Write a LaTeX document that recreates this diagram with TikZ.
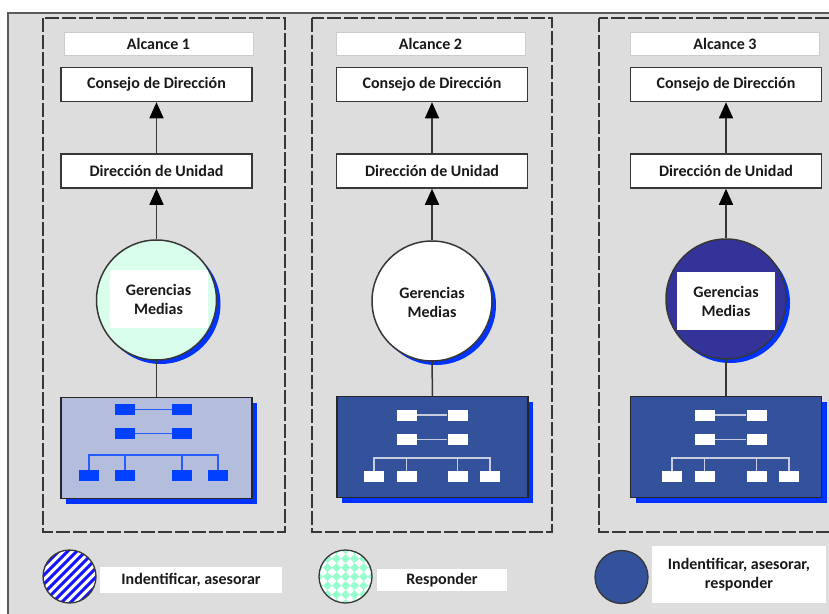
\documentclass[tikz,border=0pt]{standalone}
\usepackage{fontspec}
\setmainfont{Carlito}
\usetikzlibrary{arrows.meta,shadows}

\definecolor{bggray}{RGB}{221,221,221}
\definecolor{framegray}{RGB}{90,90,90}
\definecolor{dashgray}{RGB}{55,55,55}
\definecolor{sblue}{RGB}{0,51,255}
\definecolor{mint}{RGB}{217,253,235}
\definecolor{navy}{RGB}{51,51,153}
\definecolor{orgdark}{RGB}{52,81,155}
\definecolor{orglight}{RGB}{180,190,220}
\definecolor{minib}{RGB}{0,64,255}
\definecolor{stripeb}{RGB}{20,20,255}
\definecolor{diamondc}{RGB}{150,255,205}
\definecolor{txt}{RGB}{25,25,25}
\definecolor{lightline}{RGB}{200,205,225}

\newcommand{\minichart}[8]{%
  \node[mb] (#1t1) at ({#2-#3},#5) {};
  \node[mb] (#1t2) at ({#2+#3},#5) {};
  \node[mb] (#1r1) at ({#2-#3},#6) {};
  \node[mb] (#1r2) at ({#2+#3},#6) {};
  \node[mb] (#1b1) at ({#2-#4},#8) {};
  \node[mb] (#1b2) at ({#2-#3},#8) {};
  \node[mb] (#1b3) at ({#2+#3},#8) {};
  \node[mb] (#1b4) at ({#2+#4},#8) {};
  \coordinate (#1bus) at (#2,#7);
  \draw[ml] (#1t1) -- (#1t2);
  \draw[ml] (#1r1) -- (#1r2);
  \draw[ml] (#1b1.north) -- (#1b1.north |- #1bus) -- (#1b4.north |- #1bus) -- (#1b4.north);
  \draw[ml] (#1b2.north) -- (#1b2.north |- #1bus);
  \draw[ml] (#1b3.north) -- (#1b3.north |- #1bus);
}

\tikzset{
  txtfont/.style={font=\fontsize{16}{19}\selectfont\bfseries, text=txt},
  alc/.style={txtfont, draw=black!20, fill=white, line width=0.8pt, minimum width=189pt, minimum height=23pt, inner sep=0pt},
  level/.style={txtfont, draw=dashgray, fill=white, line width=1.5pt, minimum width=191pt, minimum height=34pt, inner sep=0pt},
  gm/.style={circle, draw=dashgray, line width=1.5pt, minimum size=120pt, inner sep=0pt,
     drop shadow={shadow xshift=4pt, shadow yshift=-4pt, fill=sblue, opacity=1}},
  gmlabel/.style={txtfont, fill=white, minimum width=98pt, minimum height=58pt, inner sep=0pt, align=center},
  org/.style={draw=black!85, line width=1.5pt, minimum width=191pt, minimum height=101pt, inner sep=0pt,
     drop shadow={shadow xshift=5pt, shadow yshift=-5pt, fill=sblue, opacity=1}},
  up/.style={draw=dashgray, line width=1.5pt, -{Triangle[length=16pt,width=14pt,fill=black,color=black]}},
  link/.style={draw=dashgray, line width=1.5pt},
  panel/.style={draw=dashgray, line width=1.6pt, dash pattern=on 14pt off 3pt},
  mb/.style={minimum width=20pt, minimum height=11pt, inner sep=0pt},
  legc/.style={circle, draw=dashgray, line width=1.3pt, minimum size=53pt, inner sep=0pt},
  legt/.style={txtfont, fill=white, inner sep=0pt, align=center},
}

\begin{document}
\begin{tikzpicture}[x=1pt,y=-1pt]
\useasboundingbox (0,0) rectangle (829,613);
\clip (0,0) rectangle (829,613);
\fill[white] (0,0) rectangle (829,613);
% outer frame
\draw[framegray, line width=2pt, fill=bggray] (8,13) rectangle (860,640);
% dashed panels
\draw[panel] (43,18) rectangle (285,532);
\draw[panel] (312,18) rectangle (552,532);
\draw[panel] (599,18) rectangle (880,532);

% ---------- Panel 1 ----------
\node[alc] (a1) at (158.5,43.5) {Alcance 1};
\node[level] (k1) at (156.5,84.5) {Consejo de Dirección};
\node[level] (d1) at (156.5,171) {Dirección de Unidad};
\node[gm, fill=mint] (c1) at (156.5,300) {};
\node[gmlabel] (g1) at (158.5,299) {Gerencias\\Medias};
\node[org, fill=orglight] (o1) at (156.5,448) {};
\draw[up] (d1.north) -- (k1.south);
\draw[up] (c1.north) -- (d1.south);
\draw[link] (c1.south) -- (o1.north);
\begin{scope}[mb/.append style={fill=minib}, ml/.style={draw=minib!85, line width=1.3pt}]
\minichart{m1}{153.5}{28.5}{64.5}{409.5}{433.5}{455}{475.5}
\end{scope}

% ---------- Panel 2 ----------
\node[alc] (a2) at (430.5,43.5) {Alcance 2};
\node[level] (k2) at (432,84.5) {Consejo de Dirección};
\node[level] (d2) at (432,171) {Dirección de Unidad};
\node[gm, fill=white] (c2) at (432,301) {};
\node[gmlabel] (g2) at (432,302) {Gerencias\\Medias};
\node[org, fill=orgdark] (o2) at (432.5,447) {};
\draw[up] (d2.north) -- (k2.south);
\draw[up] (c2.north) -- (d2.south);
\draw[link] (c2.south) -- (o2.north);
\begin{scope}[mb/.append style={fill=white}, ml/.style={draw=lightline, line width=1.3pt}]
\minichart{m2}{432}{25.5}{58}{415}{439.5}{458}{476.5}
\end{scope}

% ---------- Panel 3 ----------
\node[alc] (a3) at (725,43.5) {Alcance 3};
\node[level] (k3) at (726,84.5) {Consejo de Dirección};
\node[level] (d3) at (726,171) {Dirección de Unidad};
\node[gm, fill=navy] (c3) at (726,299) {};
\node[gmlabel] (g3) at (726,301) {Gerencias\\Medias};
\node[org, fill=orgdark] (o3) at (726,447) {};
\draw[up] (d3.north) -- (k3.south);
\draw[up] (c3.north) -- (d3.south);
\draw[link] (c3.south) -- (o3.north);
\begin{scope}[mb/.append style={fill=white}, ml/.style={draw=lightline, line width=1.3pt}]
\minichart{m3}{730.5}{26}{58.5}{415}{439.5}{458}{476.5}
\end{scope}

% ---------- Legend ----------
\node[legc, fill=white, path picture={
  \foreach \i in {-8,...,8}
    \draw[stripeb, line width=3pt] ([xshift=\i*9pt-40pt, yshift=-40pt]path picture bounding box.center) -- ++(80pt,80pt);
}] (lc1) at (69.5,576.5) {};
\node[legt, minimum width=182pt, minimum height=26pt] (lt1) at (191,580) {Indentificar, asesorar};

\node[legc, fill=white, path picture={
  \foreach \i in {-4,...,4}
    \foreach \j in {-4,...,4}
      \fill[diamondc] ([xshift=\i*9pt, yshift=\j*9pt]path picture bounding box.center)
         +(-4.5pt,0pt) -- +(0pt,4.5pt) -- +(4.5pt,0pt) -- +(0pt,-4.5pt) -- cycle;
}] (lc2) at (345.5,576.5) {};
\node[legt, minimum width=130pt, minimum height=22pt] (lt2) at (442,580) {Responder};

\node[legc, fill=orgdark] (lc3) at (621.5,577) {};
\node[legt, minimum width=174pt, minimum height=57pt] (lt3) at (739,574.5) {Indentificar, asesorar,\\responder};
\end{tikzpicture}
\end{document}
